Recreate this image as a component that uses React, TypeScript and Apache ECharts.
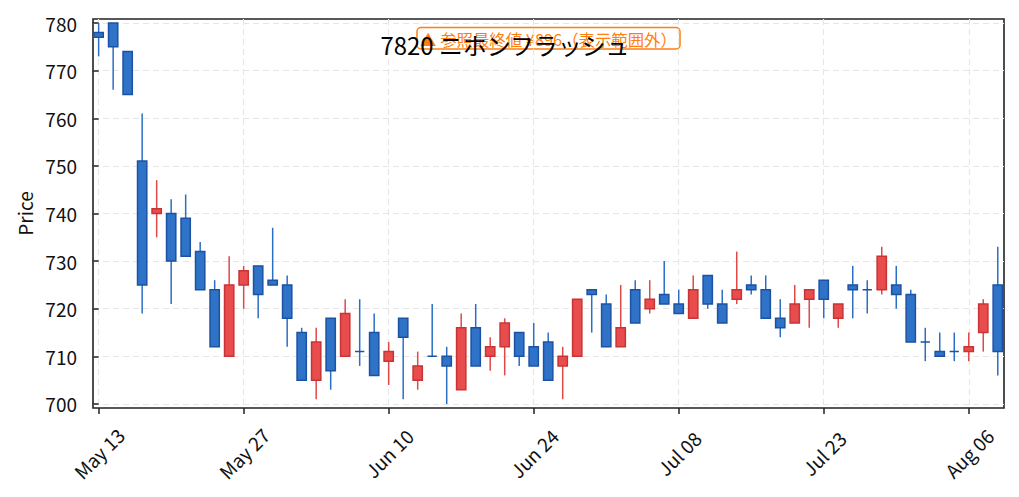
import React, { useEffect, useRef } from "react";
import * as echarts from "echarts";

// Trading days (2024, Tokyo)
const dates: string[] = [
  "2024-05-13", "2024-05-14", "2024-05-15", "2024-05-16", "2024-05-17",
  "2024-05-20", "2024-05-21", "2024-05-22", "2024-05-23", "2024-05-24",
  "2024-05-27", "2024-05-28", "2024-05-29", "2024-05-30", "2024-05-31",
  "2024-06-03", "2024-06-04", "2024-06-05", "2024-06-06", "2024-06-07",
  "2024-06-10", "2024-06-11", "2024-06-12", "2024-06-13", "2024-06-14",
  "2024-06-17", "2024-06-18", "2024-06-19", "2024-06-20", "2024-06-21",
  "2024-06-24", "2024-06-25", "2024-06-26", "2024-06-27", "2024-06-28",
  "2024-07-01", "2024-07-02", "2024-07-03", "2024-07-04", "2024-07-05",
  "2024-07-08", "2024-07-09", "2024-07-10", "2024-07-11", "2024-07-12",
  "2024-07-16", "2024-07-17", "2024-07-18", "2024-07-19",
  "2024-07-22", "2024-07-23", "2024-07-24", "2024-07-25", "2024-07-26",
  "2024-07-29", "2024-07-30", "2024-07-31", "2024-08-01", "2024-08-02",
  "2024-08-05", "2024-08-06", "2024-08-07", "2024-08-08",
];

const openP: number[] = [
  778, 780, 774, 751, 740, 740, 739, 732, 724, 710,
  725, 729, 726, 725, 715, 705, 718, 710, 711, 715,
  709, 718, 705, 710, 710, 703, 716, 710, 712, 715,
  712, 713, 708, 710, 724, 721, 712, 724, 720, 723,
  721, 718, 727, 721, 722, 725, 724, 718, 717, 722,
  726, 718, 725, 724, 724, 725, 723, 713, 711, 711,
  711, 715, 725,
];
const closeP: number[] = [
  777, 775, 765, 725, 741, 730, 731, 724, 712, 725,
  728, 723, 725, 718, 705, 713, 707, 719, 711, 706,
  711, 714, 708, 710, 708, 716, 708, 712, 717, 710,
  708, 705, 710, 722, 723, 712, 716, 717, 722, 721,
  719, 724, 721, 717, 724, 724, 718, 716, 721, 724,
  722, 721, 724, 724, 731, 723, 713, 713, 710, 711,
  712, 721, 711,
];
const lowP: number[] = [
  773, 766, 765, 719, 735, 721, 731, 724, 712, 710,
  720, 718, 725, 712, 705, 701, 703, 710, 708, 706,
  704, 701, 703, 710, 700, 703, 708, 707, 706, 708,
  708, 705, 701, 710, 715, 712, 712, 717, 719, 721,
  719, 718, 720, 717, 721, 723, 718, 714, 717, 716,
  718, 716, 718, 719, 723, 720, 713, 709, 710, 709,
  709, 711, 706,
];
const highP: number[] = [
  780, 780, 774, 761, 747, 743, 744, 734, 726, 731,
  729, 729, 737, 727, 716, 716, 718, 722, 722, 719,
  713, 718, 711, 721, 712, 719, 721, 714, 718, 715,
  717, 715, 712, 722, 724, 723, 725, 726, 726, 730,
  724, 727, 727, 724, 732, 727, 727, 722, 725, 724,
  726, 721, 729, 726, 733, 729, 724, 716, 715, 715,
  715, 722, 733,
];

const yTicks: number[] = [700, 710, 720, 730, 740, 750, 760, 770, 780];
const xTickIdx: number[] = [0, 10, 20, 30, 40, 50, 60];

const titleText = "7820 ニホンフラッシュ";
const noteText = "▲ 参照最終値 ¥896（表示範囲外）";

const MONTHS = ["Jan", "Feb", "Mar", "Apr", "May", "Jun", "Jul", "Aug", "Sep", "Oct", "Nov", "Dec"];
function fmtDate(s: string): string {
  const [, m, d] = s.split("-");
  return `${MONTHS[parseInt(m, 10) - 1]} ${d}`;
}

const FONT = "'Noto Sans CJK JP', 'Noto Sans', sans-serif";
const UP_FILL = "#e84c4c";
const UP_EDGE = "#c83434";
const UP_WICK = "#e24747";
const DN_FILL = "#2e73c7";
const DN_EDGE = "#1c52a3";
const DN_WICK = "#2b6fc4";
const LABEL_SIZE = 19;

export default function App() {
  const ref = useRef<HTMLDivElement>(null);
  useEffect(() => {
    if (!ref.current) return;
    const chart = echarts.init(ref.current, null, { renderer: "svg" });
    const data = dates.map((_, i) => [i, openP[i], closeP[i], lowP[i], highP[i]]);
    const option: any = {
      animation: false,
      backgroundColor: "#fff",
      textStyle: { fontFamily: FONT },
      title: {
        text: titleText,
        left: 500,
        textAlign: "center",
        top: 28,
        z: 10,
        textStyle: { fontSize: 23.9, fontWeight: "normal", color: "#000", fontFamily: FONT },
      },
      grid: {
        left: 93,
        top: 19,
        width: 911,
        height: 389,
        show: true,
        borderColor: "#222",
        borderWidth: 1.6,
        backgroundColor: "transparent",
      },
      xAxis: {
        type: "value",
        min: -0.39,
        max: 62.43,
        axisLine: { show: false },
        axisTick: {
          show: true,
          length: 6,
          lineStyle: { color: "#222", width: 1.5 },
          customValues: xTickIdx,
        },
        axisLabel: {
          customValues: xTickIdx,
          formatter: (v: number) => fmtDate(dates[Math.round(v)]),
          rotate: 45,
          align: "center",
          verticalAlign: "middle",
          margin: 45,
          fontSize: LABEL_SIZE,
          color: "#111",
          fontFamily: FONT,
        },
        splitLine: {
          show: true,
          customValues: xTickIdx,
          lineStyle: { color: "#e6e6e6", type: [6, 4], width: 1.2 },
        },
      },
      yAxis: {
        type: "value",
        min: 699.16,
        max: 780.84,
        name: "Price",
        nameLocation: "middle",
        nameRotate: 90,
        nameGap: 57,
        nameTextStyle: { fontSize: LABEL_SIZE, color: "#111", fontFamily: FONT },
        axisLine: { show: false },
        axisTick: {
          show: true,
          length: 6,
          lineStyle: { color: "#222", width: 1.5 },
          customValues: yTicks,
        },
        axisLabel: {
          customValues: yTicks,
          margin: 16,
          fontSize: LABEL_SIZE,
          color: "#111",
          fontFamily: FONT,
        },
        splitLine: {
          show: true,
          customValues: yTicks,
          lineStyle: { color: "#e6e6e6", type: [6, 4], width: 1.2 },
        },
      },
      graphic: [
        {
          type: "group",
          z: 5,
          children: [
            {
              type: "rect",
              shape: { x: 417, y: 27.5, width: 263, height: 21.5, r: 4 },
              style: { fill: "rgba(255,255,255,0.8)", stroke: "#ff7f0e", lineWidth: 1.5 },
            },
            {
              type: "text",
              x: 548.5,
              y: 38.5,
              style: {
                text: noteText,
                fill: "#ff7f0e",
                font: `16.4px ${FONT}`,
                align: "center",
                verticalAlign: "middle",
              },
            },
          ],
        },
      ],
      series: [
        {
          type: "custom",
          clip: true,
          data,
          encode: { x: 0, y: [1, 2, 3, 4] },
          renderItem: (params: any, api: any) => {
            const x = api.value(0);
            const o = api.value(1);
            const c = api.value(2);
            const l = api.value(3);
            const h = api.value(4);
            const up = c > o;
            const pTop = api.coord([x, Math.max(o, c)]);
            const pBot = api.coord([x, Math.min(o, c)]);
            const pH = api.coord([x, h]);
            const pL = api.coord([x, l]);
            const w = api.size([1, 0])[0] * 0.64;
            return {
              type: "group",
              children: [
                {
                  type: "line",
                  shape: { x1: pH[0], y1: pH[1], x2: pL[0], y2: pL[1] },
                  style: { stroke: up ? UP_WICK : DN_WICK, lineWidth: 1.5 },
                },
                {
                  type: "rect",
                  shape: { x: pTop[0] - w / 2, y: pTop[1], width: w, height: pBot[1] - pTop[1] },
                  style: {
                    fill: up ? UP_FILL : DN_FILL,
                    stroke: up ? UP_EDGE : DN_EDGE,
                    lineWidth: 1.5,
                  },
                },
              ],
            };
          },
        },
      ],
    };
    chart.setOption(option);
    return () => chart.dispose();
  }, []);
  return (
    <div
      ref={ref}
      style={{ position: "absolute", left: 0, top: 0, width: 1019, height: 497 }}
    />
  );
}
